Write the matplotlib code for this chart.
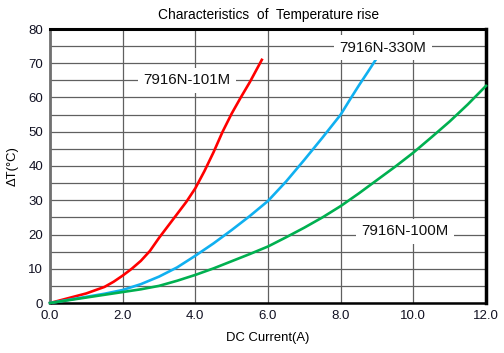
import matplotlib
matplotlib.use("Agg")
import matplotlib.pyplot as plt

plt.rcParams['font.family'] = ['Liberation Sans', 'DejaVu Sans']

red_x = [0, 0.5, 1.0, 1.5, 1.75, 2.0, 2.25, 2.5, 2.75, 3.0, 3.25, 3.5, 3.75, 4.0, 4.25, 4.5, 4.75, 5.0, 5.25, 5.5, 5.83]
red_y = [0, 1.4, 2.8, 4.7, 6.2, 8.0, 10.0, 12.3, 15.2, 19.0, 22.5, 26.0, 29.5, 33.5, 38.5, 44.0, 50.0, 55.3, 60.0, 64.5, 71.0]

blue_x = [0, 0.5, 1.0, 1.5, 2.0, 2.5, 3.0, 3.5, 4.0, 4.5, 5.0, 5.5, 6.0, 6.5, 7.0, 7.5, 8.0, 8.25, 8.5, 8.75, 8.97]
blue_y = [0, 0.9, 1.8, 2.7, 3.8, 5.5, 7.7, 10.4, 13.8, 17.4, 21.3, 25.4, 29.8, 35.5, 41.8, 48.3, 55.0, 59.3, 63.5, 67.5, 71.1]

green_x = [0, 0.5, 1.0, 1.5, 2.0, 2.5, 3.0, 3.5, 4.0, 4.5, 5.0, 5.5, 6.0, 6.5, 7.0, 7.5, 8.0, 8.5, 9.0, 9.5, 10.0, 10.5, 11.0, 11.5, 12.0]
green_y = [0, 0.8, 1.6, 2.4, 3.2, 4.0, 5.0, 6.5, 8.2, 10.1, 12.2, 14.3, 16.5, 19.2, 22.0, 25.0, 28.3, 32.0, 35.9, 39.8, 43.9, 48.4, 53.0, 58.0, 63.4]

labels = ["7916N-101M", "7916N-330M", "7916N-100M"]
label_pos = [(3.77, 65), (9.17, 74.5), (9.77, 21)]

xticks = [0, 2, 4, 6, 8, 10, 12]
yticks = [0, 10, 20, 30, 40, 50, 60, 70, 80]

fig = plt.figure(figsize=(5.04, 3.53), dpi=100)
ax = fig.add_axes([50/504, 50/353, 436/504, 274/353])

ax.set_xlim(0, 12)
ax.set_ylim(0, 80)
ax.set_xticks(xticks)
ax.set_xticklabels([f"{v:.1f}" for v in xticks])
ax.set_yticks(yticks)
ax.set_yticks(range(0, 81, 5), minor=True)
ax.grid(True, which='both', color='#606060', linewidth=0.9)
ax.set_axisbelow(True)
ax.tick_params(which='both', length=0, labelsize=9.5, pad=5, colors='#111122')

for s, c, w in [('left', '#707070', 2.0), ('top', 'black', 2.2), ('right', 'black', 2.5), ('bottom', 'black', 1.8)]:
    ax.spines[s].set_color(c)
    ax.spines[s].set_linewidth(w)

ax.plot(red_x, red_y, color='#ff0000', linewidth=1.9, clip_on=False, zorder=3)
ax.plot(blue_x, blue_y, color='#10b0f0', linewidth=1.9, clip_on=False, zorder=3)
ax.plot(green_x, green_y, color='#00b050', linewidth=1.9, clip_on=False, zorder=3)

for t, (x, y) in zip(labels, label_pos):
    ax.text(x, y, t, ha='center', va='center', fontsize=10.8, color='#111111',
            bbox=dict(facecolor='white', edgecolor='none', pad=4), zorder=4)

ax.set_xlabel("DC Current(A)", fontsize=9.4, labelpad=7)
ax.set_ylabel("ΔT(°C)", fontsize=9.4, labelpad=7)
ax.set_title("Characteristics  of  Temperature rise", fontsize=9.9, pad=7)

fig.savefig("out.png", dpi=100)
